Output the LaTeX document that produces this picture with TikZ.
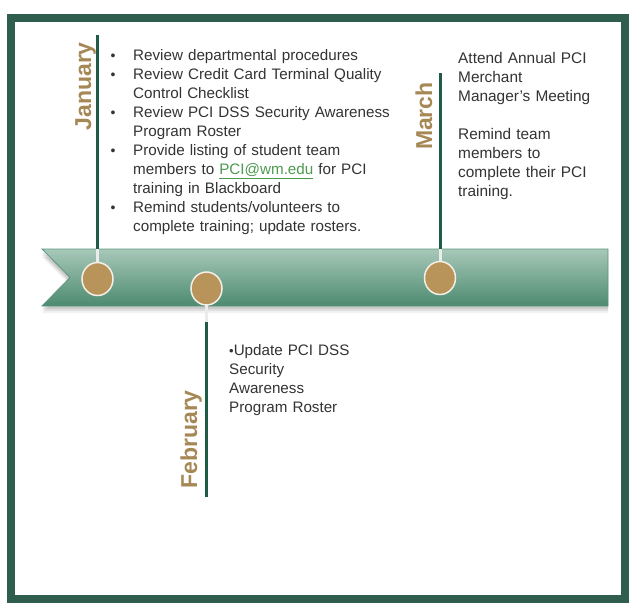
\documentclass[tikz,border=0pt]{standalone}
\usepackage{fontspec}
\setmainfont{Liberation Sans}
\definecolor{frame}{HTML}{2F5E4E}
\definecolor{ribtop}{HTML}{A7C8B8}
\definecolor{ribbot}{HTML}{4C8A70}
\definecolor{ribedge}{HTML}{5E9580}
\definecolor{vgreen}{HTML}{1F5C45}
\definecolor{gold}{HTML}{B8945A}
\definecolor{goldtext}{HTML}{A68855}
\definecolor{bodytext}{HTML}{333333}
\definecolor{link}{HTML}{4E9A50}
\newcommand\smallbul{{\fontsize{14}{14}\selectfont •}}
\newcommand\bitem[1]{\hangindent=23pt\hangafter=1\noindent\makebox[23pt][l]{\hspace{0.5pt}\smallbul}#1\par}
\tikzset{
  body/.style={inner sep=0pt, anchor=base west, text width=330pt,
    font=\fontsize{15.2}{19.1}\selectfont\raggedright, text=bodytext},
  month/.style={inner sep=0pt, rotate=90, anchor=base east, text=goldtext,
    font=\fontsize{23}{23}\selectfont\bfseries},
  vline/.style={draw=vgreen, line width=3pt},
  wline/.style={draw=white!92!black, line width=3pt},
  dot/.style={ellipse, minimum width=31pt, minimum height=33pt, inner sep=0pt,
    fill=gold, draw=white!85!gold, line width=1.5pt},
}
\usetikzlibrary{shapes.geometric}
\begin{document}
\begin{tikzpicture}[x=1pt,y=-1pt]
\useasboundingbox (0,0) rectangle (629,603);
\fill[white] (0,0) rectangle (629,603);
\draw[line width=8pt, frame] (11,18) rectangle (625,599);
% ribbon shadow
\foreach \o/\a in {7/0.05,5/0.07,3/0.09}{
  \fill[black, opacity=\a] (42,250+\o) -- (608,250+\o) -- (608,306+\o) -- (42,306+\o) -- (70,278+\o) -- cycle;
}
% ribbon
\shade[top color=ribtop, bottom color=ribbot] (42,249) -- (608,249) -- (608,306) -- (42,306) -- (70,277.5) -- cycle;
\draw[ribedge, line width=0.8pt] (42,249) -- (608,249) -- (608,306) -- (42,306) -- (70,277.5) -- cycle;
% anchors
\coordinate (jantop) at (97,35);
\coordinate (janrib) at (97,249);
\coordinate (martop) at (440,73);
\coordinate (marrib) at (440,249);
\coordinate (febrib) at (206.5,322);
\coordinate (febbot) at (206.5,497);
% connectors
\draw[vline] (jantop) -- (janrib);
\draw[wline] (janrib) -- (97,270);
\draw[vline] (martop) -- (marrib);
\draw[wline] (marrib) -- (440,270);
\draw[wline] (206.5,296) -- (febrib);
\draw[vline] (febrib) -- (febbot);
% circles
\node[dot] (jan) at (97.5,279) {};
\node[dot] (feb) at (206.5,288.5) {};
\node[dot] (mar) at (440,278) {};
% month labels
\node[month] (janlab) at (91,42) {January};
\node[month] (marlab) at (432,82) {March};
\node[month] (feblab) at (197,390) {February};
% texts
\node[body] (jantext) at (110,60) {%
\bitem{Review departmental procedures}
\bitem{Review Credit Card Terminal Quality\newline Control Checklist}
\bitem{Review PCI DSS Security Awareness\newline Program Roster}
\bitem{Provide listing of student team\newline members to \textcolor{link}{\underline{PCI@wm.edu}} for PCI\newline training in Blackboard}
\bitem{Remind students/volunteers to\newline complete training; update rosters.}};
\node[body, font=\fontsize{15.4}{19.1}\selectfont\raggedright] (martext) at (458,63) {Attend Annual PCI\\Merchant\\Manager’s Meeting\\[19.1pt]Remind team\\members to\\complete their PCI\\training.};
\node[body] (febtext) at (229,355) {{\fontsize{13}{13}\selectfont •}Update PCI DSS\\Security\\Awareness\\Program Roster};
\end{tikzpicture}
\end{document}
